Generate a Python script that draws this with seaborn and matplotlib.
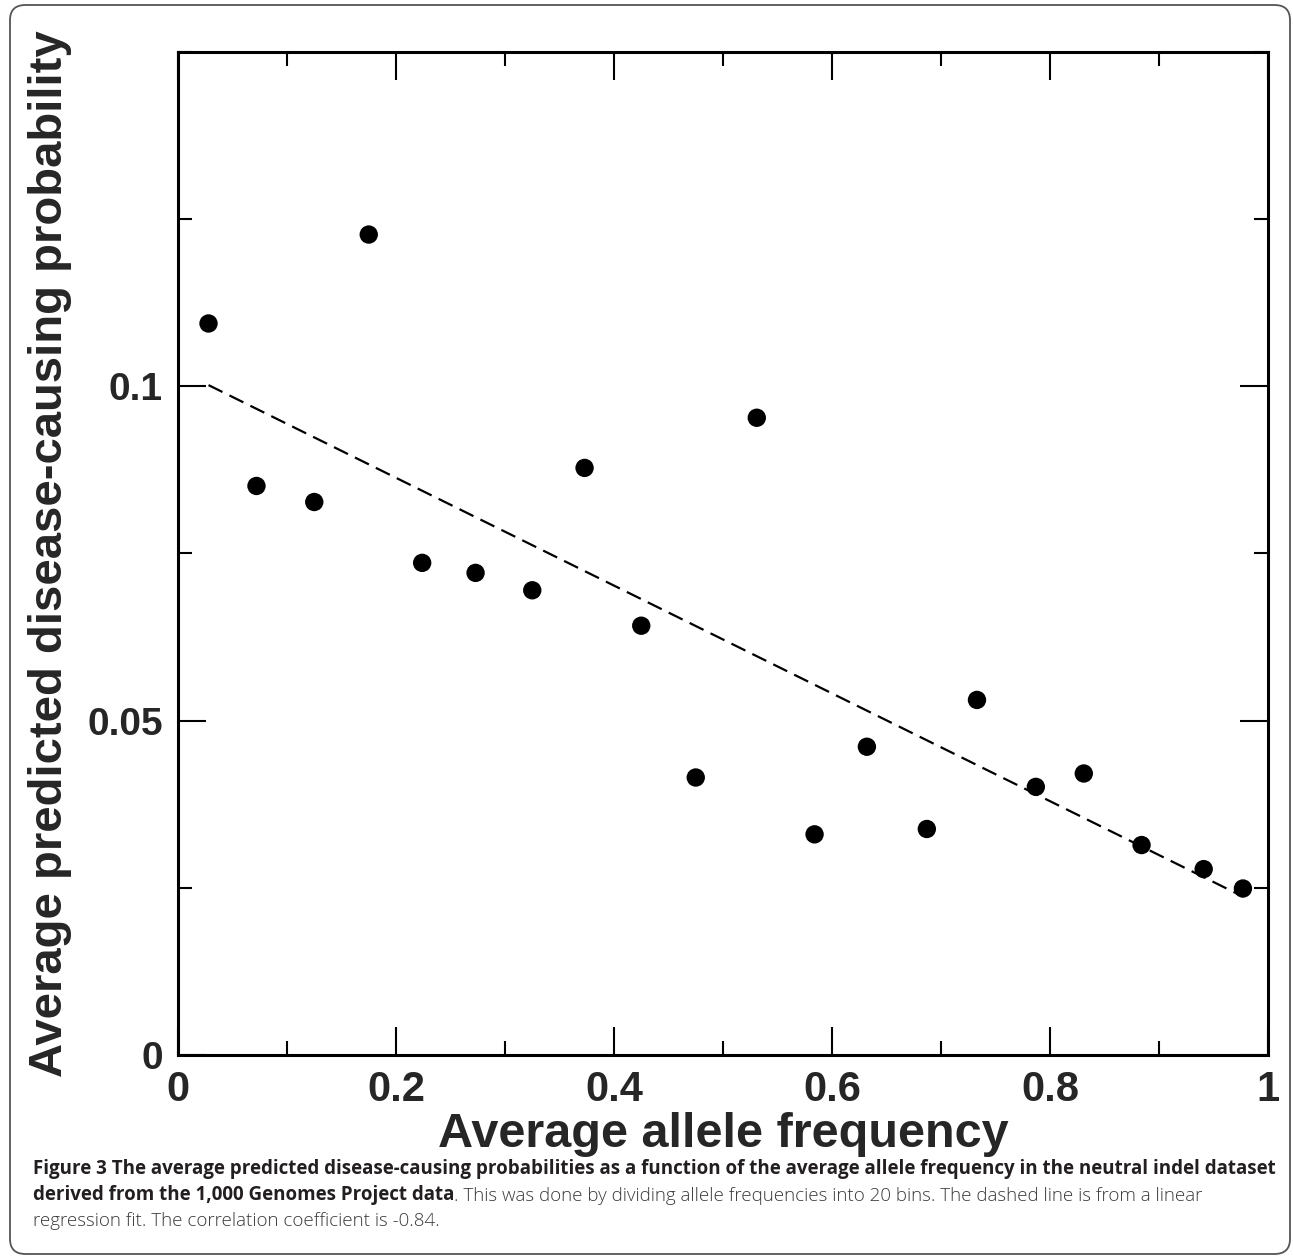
import numpy as np
import pandas as pd
import seaborn as sns
import matplotlib.pyplot as plt
from matplotlib.patches import FancyBboxPatch
from matplotlib.ticker import MultipleLocator

# values (20 allele-frequency bins)
freq = [0.028, 0.072, 0.125, 0.175, 0.224, 0.273, 0.325, 0.373, 0.425, 0.475,
        0.531, 0.584, 0.632, 0.687, 0.733, 0.787, 0.831, 0.884, 0.941, 0.977]
prob = [0.1094, 0.0851, 0.0827, 0.1227, 0.0736, 0.0721, 0.0695, 0.0878, 0.0642, 0.0415,
        0.0953, 0.0330, 0.0461, 0.0338, 0.0531, 0.0401, 0.0421, 0.0314, 0.0278, 0.0249]
x_ticks = [0, 0.2, 0.4, 0.6, 0.8, 1]
x_ticklabels = ['0', '0.2', '0.4', '0.6', '0.8', '1']
y_ticks = [0, 0.05, 0.1]
y_ticklabels = ['0', '0.05', '0.1']

df = pd.DataFrame({'freq': freq, 'prob': prob})

sns.set_style('ticks')
plt.rcParams['font.family'] = ['Liberation Sans', 'DejaVu Sans']

W, H = 1293, 1259
fig = plt.figure(figsize=(W / 100, H / 100), dpi=100)
ax = fig.add_axes([178 / W, 1 - 1055 / H, 1090 / W, 1003 / H])

sns.scatterplot(data=df, x='freq', y='prob', ax=ax, color='black', s=175,
                edgecolor='none', zorder=3)
sns.regplot(data=df, x='freq', y='prob', ax=ax, scatter=False, ci=None, truncate=True,
            line_kws=dict(color='black', lw=1.6, ls=(0, (7, 3.5))))

ax.set_xlim(0, 1)
ax.set_ylim(0, 0.15)
ax.set_xticks(x_ticks)
ax.set_xticklabels(x_ticklabels, fontsize=30, fontweight='bold')
ax.set_yticks(y_ticks)
ax.set_yticklabels(y_ticklabels, fontsize=28, fontweight='bold')
ax.xaxis.set_minor_locator(MultipleLocator(0.1))
ax.yaxis.set_minor_locator(MultipleLocator(0.025))
ax.tick_params(which='both', direction='in', top=True, right=True, width=1.5, color='black')
ax.tick_params(which='major', length=20, pad=11)
ax.tick_params(which='minor', length=10)
for sp in ax.spines.values():
    sp.set_visible(True)
    sp.set_linewidth(2.2)
    sp.set_color('black')

ax.set_xlabel('Average allele frequency', fontsize=35, fontweight='bold')
ax.set_ylabel('Average predicted disease-causing probability', fontsize=34, fontweight='bold')
ax.xaxis.set_label_coords(0.5, -(1112 - 1055) / 1003)
ax.yaxis.set_label_coords(-0.097, 0.5)

# figure panel frame
frame = FancyBboxPatch((10 / W, 5 / H), 1280 / W, 1249 / H,
                       boxstyle='round,pad=0,rounding_size=0.012',
                       transform=fig.transFigure, fill=False, ec='#555555', lw=1.3)
fig.add_artist(frame)

# caption
cap_font = ['Open Sans', 'DejaVu Sans']
cap_size = 13.5
fig.text(33 / W, 1 - 1174 / H,
         'Figure 3 The average predicted disease-causing probabilities as a function of the '
         'average allele frequency in the neutral indel dataset',
         fontsize=cap_size, fontweight='bold', family=cap_font, color='#231f20', va='baseline')
t2 = fig.text(33 / W, 1 - 1200 / H, 'derived from the 1,000 Genomes Project data',
              fontsize=cap_size, fontweight='bold', family=cap_font, color='#231f20',
              va='baseline')
ax.annotate('. This was done by dividing allele frequencies into 20 bins. The dashed line is '
            'from a linear', xy=(1, 0), xycoords=t2, va='bottom', ha='left',
            fontsize=cap_size, fontweight='light', family=cap_font, color='#3a3a3a',
            annotation_clip=False)
fig.text(33 / W, 1 - 1226 / H, 'regression fit. The correlation coefficient is -0.84.',
         fontsize=cap_size, fontweight='light', family=cap_font, color='#3a3a3a', va='baseline')

fig.savefig('out.png', dpi=100)
